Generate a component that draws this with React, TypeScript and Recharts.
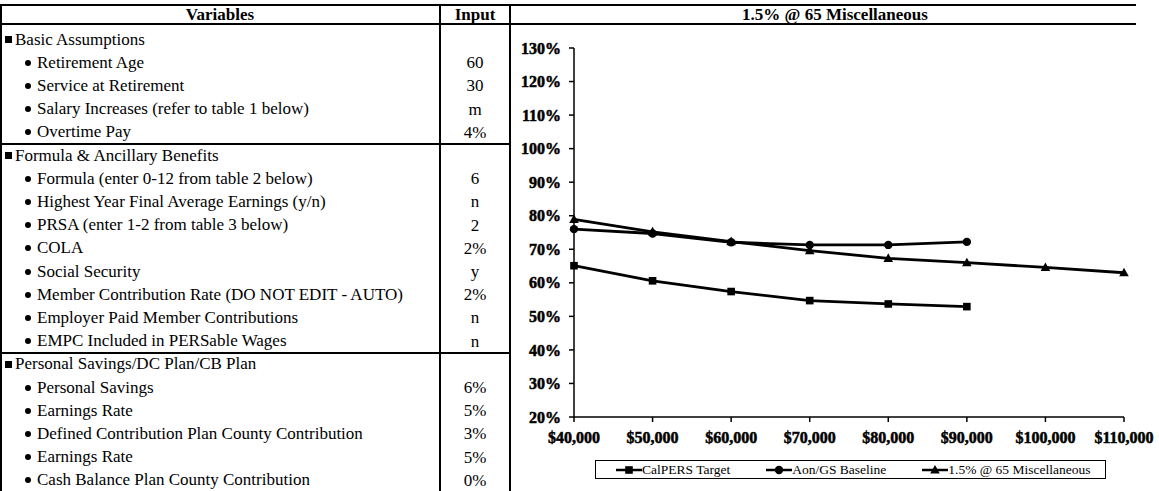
import React from 'react';
import { LineChart, Line, XAxis, YAxis, Legend } from 'recharts';

// ---- chart data (replacement ratio, %) ----
const salaryLevels = ['$40,000', '$50,000', '$60,000', '$70,000', '$80,000', '$90,000', '$100,000', '$110,000'];
const calpersTarget = [65.1, 60.6, 57.4, 54.7, 53.7, 52.9, null, null];
const aonGsBaseline = [76.0, 74.7, 72.1, 71.3, 71.3, 72.2, null, null];
const misc15at65 = [78.9, 75.2, 72.3, 69.6, 67.3, 66.0, 64.6, 63.0];
const percentTicks = [20, 30, 40, 50, 60, 70, 80, 90, 100, 110, 120, 130];

const seriesNames = ['CalPERS Target', 'Aon/GS Baseline', '1.5% @ 65 Miscellaneous'];
const chartTitle = '1.5% @ 65 Miscellaneous';

// ---- input table ----
const variableLabels = [
  'Basic Assumptions',
  'Retirement Age',
  'Service at Retirement',
  'Salary Increases (refer to table 1 below)',
  'Overtime Pay',
  'Formula & Ancillary Benefits',
  'Formula (enter 0-12 from table 2 below)',
  'Highest Year Final Average Earnings (y/n)',
  'PRSA (enter 1-2 from table 3 below)',
  'COLA',
  'Social Security',
  'Member Contribution Rate (DO NOT EDIT - AUTO)',
  'Employer Paid Member Contributions',
  'EMPC Included in PERSable Wages',
  'Personal Savings/DC Plan/CB Plan',
  'Personal Savings',
  'Earnings Rate',
  'Defined Contribution Plan County Contribution',
  'Earnings Rate',
  'Cash Balance Plan County Contribution',
];
const inputValues = ['', '60', '30', 'm', '4%', '', '6', 'n', '2', '2%', 'y', '2%', 'n', 'n', '', '6%', '5%', '3%', '5%', '0%'];
const sectionRows = [0, 5, 14];

const chartData = salaryLevels.map((salary, i) => ({
  salary,
  calpers: calpersTarget[i],
  aon: aonGsBaseline[i],
  misc: misc15at65[i],
}));

const FONT = '"Liberation Serif", "Times New Roman", serif';
const ROW_TOP = 28;
const ROW_H = 23.2;

type Shape = 'square' | 'circle' | 'triangle';
const shapeByKey: Record<string, Shape> = { calpers: 'square', aon: 'circle', misc: 'triangle' };

function Marker({ cx, cy, shape }: { cx: number; cy: number; shape: Shape }) {
  if (shape === 'square') return <rect x={cx - 3.8} y={cy - 3.8} width={7.6} height={7.6} fill="#000" />;
  if (shape === 'circle') return <circle cx={cx} cy={cy} r={4.2} fill="#000" />;
  return <polygon points={`${cx},${cy - 5} ${cx + 4.8},${cy + 3.6} ${cx - 4.8},${cy + 3.6}`} fill="#000" />;
}

const makeDot = (shape: Shape, prefix: string) => (p: any) => {
  if (p == null || p.cx == null || p.cy == null || p.value == null) return <g key={`${prefix}-${p?.index}`} />;
  return (
    <g key={`${prefix}-${p.index}`}>
      <Marker cx={p.cx} cy={p.cy} shape={shape} />
    </g>
  );
};

const renderLegend = (props: any) => {
  const payload = [...(props.payload || [])].sort(
    (a: any, b: any) => seriesNames.indexOf(a.value) - seriesNames.indexOf(b.value)
  );
  return (
    <div
      style={{
        boxSizing: 'border-box',
        width: 511,
        height: 19,
        border: '1.5px solid #000',
        display: 'flex',
        alignItems: 'center',
        paddingLeft: 20,
        fontFamily: FONT,
        fontSize: 13.5,
        color: '#000',
        background: '#fff',
      }}
    >
      {payload.map((entry: any, i: number) => (
        <span key={i} style={{ display: 'flex', alignItems: 'center', marginRight: 36 }}>
          <svg width={26} height={12} style={{ display: 'block' }}>
            <line x1={0} y1={6} x2={26} y2={6} stroke="#000" strokeWidth={2.5} />
            <Marker cx={13} cy={6} shape={shapeByKey[entry.dataKey]} />
          </svg>
          <span style={{ whiteSpace: 'nowrap' }}>{entry.value}</span>
        </span>
      ))}
    </div>
  );
};

const axisTick = { fill: '#000', fontSize: 16, fontWeight: 700, fontFamily: FONT, stroke: '#000', strokeWidth: 0.5 };

function HLine({ x1, x2, y, w = 1.5 }: { x1: number; x2: number; y: number; w?: number }) {
  return <div style={{ position: 'absolute', left: x1, top: y - w / 2, width: x2 - x1, height: w, background: '#000' }} />;
}
function VLine({ x, y1, y2, w = 1.5 }: { x: number; y1: number; y2: number; w?: number }) {
  return <div style={{ position: 'absolute', left: x - w / 2, top: y1, width: w, height: y2 - y1, background: '#000' }} />;
}

export default function App() {
  return (
    <div
      style={{
        position: 'absolute',
        left: 0,
        top: 0,
        width: 1159,
        height: 491,
        overflow: 'hidden',
        background: '#fff',
        fontFamily: FONT,
        color: '#000',
      }}
    >
      {/* grid lines of the sheet */}
      <HLine x1={0} x2={1136} y={5} w={2} />
      <HLine x1={0} x2={1136} y={24} w={2.2} />
      <VLine x={1} y1={4} y2={491} w={1.5} />
      <VLine x={440} y1={4} y2={491} w={1.6} />
      <VLine x={510} y1={4} y2={491} w={2} />
      <HLine x1={0} x2={510} y={ROW_TOP + ROW_H * 5} w={1.6} />
      <HLine x1={0} x2={510} y={ROW_TOP + ROW_H * 14} w={1.6} />

      {/* header row */}
      <div style={{ position: 'absolute', left: 0, top: 5, width: 440, height: 19, lineHeight: '19px', textAlign: 'center', fontWeight: 700, fontSize: 17 }}>
        Variables
      </div>
      <div style={{ position: 'absolute', left: 440, top: 5, width: 70, height: 19, lineHeight: '19px', textAlign: 'center', fontWeight: 700, fontSize: 17 }}>
        Input
      </div>
      <div style={{ position: 'absolute', left: 511, top: 5, width: 648, height: 19, lineHeight: '19px', textAlign: 'center', fontWeight: 700, fontSize: 17 }}>
        {chartTitle}
      </div>

      {/* variable rows */}
      {variableLabels.map((label, i) => {
        const top = ROW_TOP + ROW_H * i;
        const isSection = sectionRows.includes(i);
        return (
          <React.Fragment key={i}>
            <div style={{ position: 'absolute', left: 0, top, width: 440, height: ROW_H, display: 'flex', alignItems: 'center', fontSize: 17, whiteSpace: 'nowrap' }}>
              {isSection ? (
                <span style={{ display: 'inline-block', width: 7, height: 7, background: '#000', marginLeft: 5, marginRight: 3 }} />
              ) : (
                <span style={{ display: 'inline-block', width: 6, height: 6, borderRadius: 3, background: '#000', marginLeft: 25, marginRight: 6 }} />
              )}
              <span>{label}</span>
            </div>
            <div style={{ position: 'absolute', left: 440, top, width: 70, height: ROW_H, lineHeight: `${ROW_H}px`, textAlign: 'center', fontSize: 17 }}>
              {inputValues[i]}
            </div>
          </React.Fragment>
        );
      })}

      {/* chart */}
      <div style={{ position: 'absolute', left: 511, top: 30 }}>
        <LineChart width={648} height={461} data={chartData} margin={{ top: 18, right: 35, left: 3, bottom: 44 }}>
          <XAxis
            dataKey="salary"
            interval={0}
            height={30}
            tickSize={5}
            tickMargin={10}
            axisLine={{ stroke: '#000', strokeWidth: 1.5 }}
            tickLine={{ stroke: '#000', strokeWidth: 1.5 }}
            tick={axisTick}
          />
          <YAxis
            type="number"
            domain={[20, 130]}
            ticks={percentTicks}
            interval={0}
            allowDataOverflow
            width={60}
            tickSize={5}
            tickMargin={8}
            tickFormatter={(v: number) => `${v}%`}
            axisLine={{ stroke: '#000', strokeWidth: 1.5 }}
            tickLine={{ stroke: '#000', strokeWidth: 1.5 }}
            tick={axisTick}
          />
          <Legend
            verticalAlign="middle"
            align="center"
            layout="horizontal"
            width={511}
            wrapperStyle={{ left: 84, top: 430, width: 511 }}
            content={renderLegend}
          />
          <Line
            dataKey="calpers"
            name={seriesNames[0]}
            stroke="#000"
            strokeWidth={2.8}
            dot={makeDot('square', 'sq')}
            activeDot={false}
            isAnimationActive={false}
          />
          <Line
            dataKey="aon"
            name={seriesNames[1]}
            stroke="#000"
            strokeWidth={2.8}
            dot={makeDot('circle', 'ci')}
            activeDot={false}
            isAnimationActive={false}
          />
          <Line
            dataKey="misc"
            name={seriesNames[2]}
            stroke="#000"
            strokeWidth={2.8}
            dot={makeDot('triangle', 'tr')}
            activeDot={false}
            isAnimationActive={false}
          />
        </LineChart>
      </div>
    </div>
  );
}
